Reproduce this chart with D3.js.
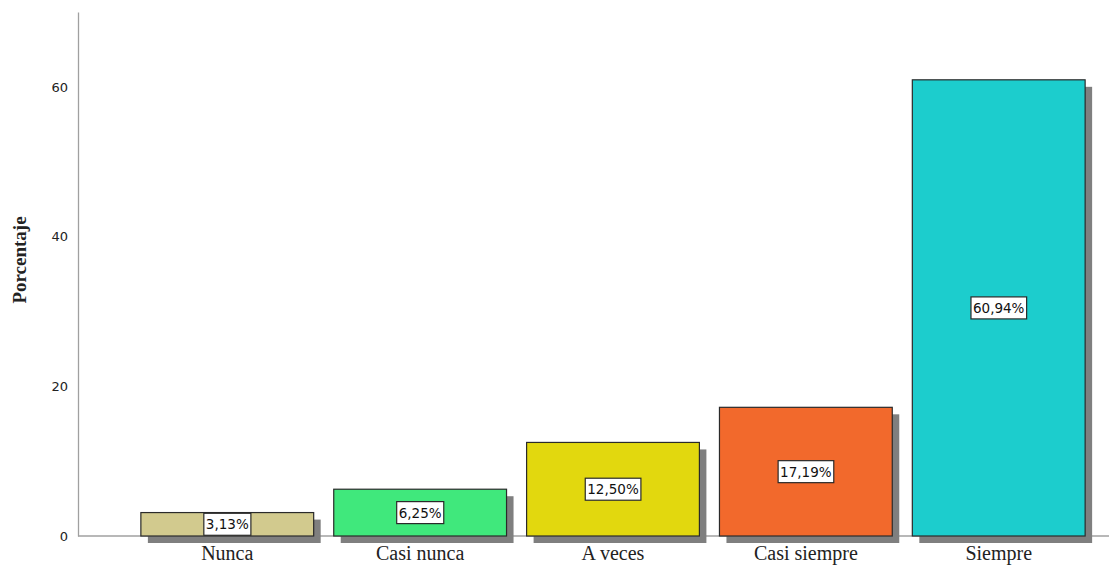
<!DOCTYPE html>
<html>
<head>
<meta charset="utf-8">
<script src="https://cdn.jsdelivr.net/npm/d3@7"></script>
<style>
  body { margin: 0; background: #fff; }
  svg { display: block; }
</style>
</head>
<body>
<div id="chart"></div>
<script>
const FRAME_WIDTH = 1109;
const FRAME_HEIGHT = 567;

// data
const CATEGORIES = ["Nunca", "Casi nunca", "A veces", "Casi siempre", "Siempre"];
const PERCENTS = [3.13, 6.25, 12.50, 17.19, 60.94];
const COLORS = ["#d2ca8e", "#40e87c", "#e2d80e", "#f2692c", "#1ccdcd"];
const Y_TICKS = [0, 20, 40, 60];

const SVG = d3.select("#chart")
  .append("svg")
    .attr("width", FRAME_WIDTH)
    .attr("height", FRAME_HEIGHT);

const X_SCALE = d3.scaleBand()
  .domain(CATEGORIES)
  .range([78, 1148])
  .paddingInner(0.104)
  .paddingOuter(0.326);

const Y_SCALE = d3.scaleLinear()
  .domain([0, 70])
  .range([536, 12]);

// y axis
const yAxis = SVG.append("g")
  .attr("transform", "translate(78,0)")
  .call(d3.axisLeft(Y_SCALE).tickValues(Y_TICKS).tickSize(0).tickPadding(10));
yAxis.select(".domain").attr("stroke", "#a0a0a0").attr("stroke-width", 1.3);
yAxis.selectAll("text")
  .attr("font-family", "DejaVu Sans, sans-serif")
  .attr("font-size", "13px")
  .attr("fill", "#222");

// x baseline
SVG.append("line")
  .attr("x1", 78).attr("x2", FRAME_WIDTH)
  .attr("y1", Y_SCALE(0)).attr("y2", Y_SCALE(0))
  .attr("stroke", "#a0a0a0")
  .attr("stroke-width", 1.3);

// shadows
SVG.selectAll(".shadow")
  .data(PERCENTS)
  .enter().append("rect")
    .attr("x", (d, i) => X_SCALE(CATEGORIES[i]) + 7)
    .attr("y", d => Y_SCALE(d) + 7)
    .attr("width", X_SCALE.bandwidth())
    .attr("height", d => Y_SCALE(0) - Y_SCALE(d))
    .attr("fill", "#7f7f7f");

// bars
SVG.selectAll(".bar")
  .data(PERCENTS)
  .enter().append("rect")
    .attr("x", (d, i) => X_SCALE(CATEGORIES[i]))
    .attr("y", d => Y_SCALE(d))
    .attr("width", X_SCALE.bandwidth())
    .attr("height", d => Y_SCALE(0) - Y_SCALE(d))
    .attr("fill", (d, i) => COLORS[i])
    .attr("stroke", "#2a2a2a")
    .attr("stroke-width", 1.2);

// value labels
PERCENTS.forEach((d, i) => {
  const cx = X_SCALE(CATEGORIES[i]) + X_SCALE.bandwidth() / 2;
  const cy = (Y_SCALE(d) + Y_SCALE(0)) / 2;
  const g = SVG.append("g");
  const t = g.append("text")
    .attr("x", cx)
    .attr("y", cy)
    .attr("text-anchor", "middle")
    .attr("dominant-baseline", "central")
    .attr("font-family", "DejaVu Sans, sans-serif")
    .attr("font-size", "13.5px")
    .attr("fill", "#111")
    .text(d.toFixed(2).replace(".", ",") + "%");
  const bb = t.node().getBBox();
  g.insert("rect", "text")
    .attr("x", bb.x - 2)
    .attr("y", cy - 11)
    .attr("width", bb.width + 4)
    .attr("height", 22)
    .attr("fill", "#fff")
    .attr("stroke", "#2a2a2a")
    .attr("stroke-width", 1.2);
});

// category labels
SVG.selectAll(".cat")
  .data(CATEGORIES)
  .enter().append("text")
    .attr("x", d => X_SCALE(d) + X_SCALE.bandwidth() / 2)
    .attr("y", 560)
    .attr("text-anchor", "middle")
    .attr("font-family", "Liberation Serif, serif")
    .attr("font-size", "20px")
    .attr("fill", "#222")
    .text(d => d);

// y title
SVG.append("text")
  .attr("transform", "translate(26,260) rotate(-90)")
  .attr("text-anchor", "middle")
  .attr("font-family", "Liberation Serif, serif")
  .attr("font-weight", "bold")
  .attr("font-size", "19px")
  .attr("fill", "#222")
  .text("Porcentaje");
</script>
</body>
</html>
